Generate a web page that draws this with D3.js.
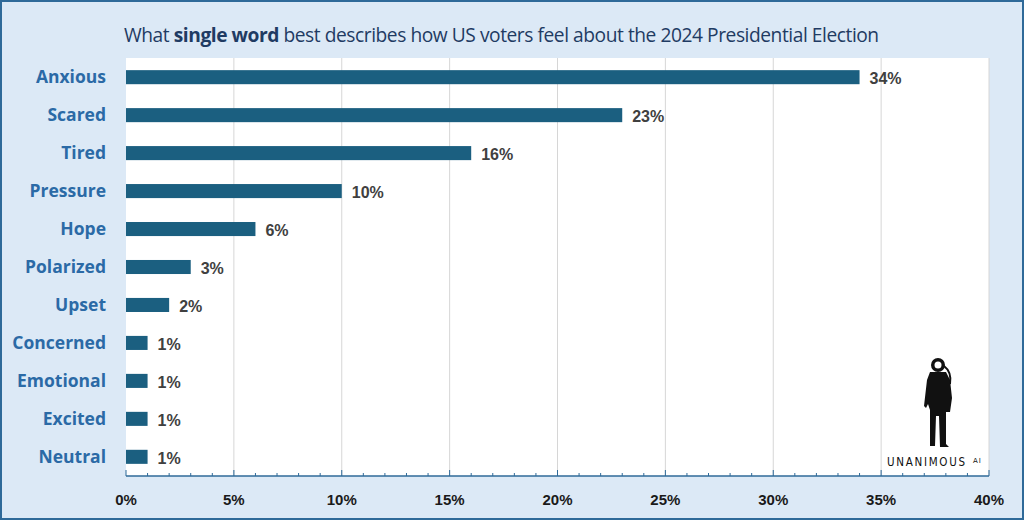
<!DOCTYPE html>
<html><head><meta charset="utf-8">
<script src="https://cdn.jsdelivr.net/npm/d3@7/dist/d3.min.js"></script>
<style>body{margin:0;background:#fff}svg{display:block}</style>
</head><body>
<script>
const categories = ["Anxious","Scared","Tired","Pressure","Hope","Polarized","Upset","Concerned","Emotional","Excited","Neutral"];
const values = [34,23,16,10,6,3,2,1,1,1,1];
const tickValues = [0,5,10,15,20,25,30,35,40];
const titleParts = [["What ",false],["single word",true],[" best describes how US voters feel about the 2024 Presidential Election",false]];

(function(){
const W=1024,H=520;
const svg=d3.select("body").append("svg").attr("width",W).attr("height",H);
svg.append("rect").attr("x",1).attr("y",1).attr("width",W-2).attr("height",H-2)
  .attr("fill","#dce9f6").attr("stroke","#2f6a99").attr("stroke-width",2);

const pL=126,pR=989,pT=58,pB=476;
svg.append("rect").attr("x",pL).attr("y",pT).attr("width",pR-pL).attr("height",pB-pT).attr("fill","#fff");

const x=d3.scaleLinear().domain([0,40]).range([pL,pR]);
const y=d3.scaleBand().domain(categories).range([pT,pB]).paddingInner(0.63).paddingOuter(0.32);

svg.append("g").selectAll("line").data(tickValues.slice(1)).join("line")
  .attr("x1",d=>x(d)).attr("x2",d=>x(d)).attr("y1",pT).attr("y2",pB)
  .attr("stroke","#d6d6d6").attr("stroke-width",1);

const t=svg.append("text").attr("x",124).attr("y",42).attr("font-family","Open Sans, sans-serif")
  .attr("font-size",19.2).attr("fill","#1f3b63").attr("letter-spacing",-0.45);
titleParts.forEach(([s,b])=>t.append("tspan").text(s).attr("font-weight",b?700:400));

svg.append("g").selectAll("rect").data(values).join("rect")
  .attr("x",x(0)).attr("y",(d,i)=>y(categories[i])).attr("width",d=>x(d)-x(0)).attr("height",y.bandwidth())
  .attr("fill","#1b5f80");

svg.append("g").selectAll("text").data(values).join("text")
  .attr("x",d=>x(d)+10).attr("y",(d,i)=>y(categories[i])+y.bandwidth()/2+1).attr("dy","0.36em")
  .attr("font-family","Liberation Sans, Arial, sans-serif").attr("font-weight",700).attr("font-size",16)
  .attr("fill","#404040").text(d=>d+"%");

svg.append("g").selectAll("text").data(categories).join("text")
  .attr("x",106).attr("y",d=>y(d)+y.bandwidth()/2).attr("dy","0.36em").attr("text-anchor","end")
  .attr("font-family","Open Sans, sans-serif").attr("font-weight",700).attr("font-size",17.5)
  .attr("fill","#2b6aa6").text(d=>d);

const ax=svg.append("g").attr("transform",`translate(0,${pB})`);
ax.append("line").attr("x1",pL).attr("x2",pR).attr("stroke","#2f6a99").attr("stroke-width",1.3);
ax.selectAll("line.tk").data(d3.range(0,41,1)).join("line").attr("class","tk")
  .attr("x1",d=>x(d)).attr("x2",d=>x(d)).attr("y1",0).attr("y2",d=>d%5===0?-6:-3)
  .attr("stroke","#2f6a99").attr("stroke-width",1);
ax.selectAll("text").data(tickValues).join("text")
  .attr("x",d=>x(d)).attr("y",29).attr("text-anchor","middle")
  .attr("font-family","Liberation Sans, Arial, sans-serif").attr("font-weight",700).attr("font-size",15)
  .attr("fill","#1a1a1a").text(d=>d+"%");

const lg=svg.append("g").attr("fill","#111");
lg.append("circle").attr("cx",938).attr("cy",365).attr("r",7);
lg.append("circle").attr("cx",938).attr("cy",365).attr("r",3.5).attr("fill","#fff");
lg.append("path").attr("d","M930,372 L946,372 L950,380 L952,398 L950,412 L946,412 L946,444 L949,447 L940,447 L939,416 L936,416 L935,446 L930,446 L930,410 L928,404 L926,408 L924,406 L927,380 Z");
lg.append("path").attr("d","M944,366 Q952,372 950,384").attr("fill","none").attr("stroke","#111").attr("stroke-width",2);
svg.append("text").attr("x",887).attr("y",466).attr("font-family","DejaVu Sans Condensed, DejaVu Sans, sans-serif")
  .attr("font-size",11.5).attr("textLength",78).attr("lengthAdjust","spacing").attr("fill","#111").text("UNANIMOUS");
svg.append("text").attr("x",973).attr("y",463).attr("font-family","DejaVu Sans, sans-serif")
  .attr("font-size",7).attr("letter-spacing",1).attr("fill","#111").text("AI");
})();
</script>
</body></html>
